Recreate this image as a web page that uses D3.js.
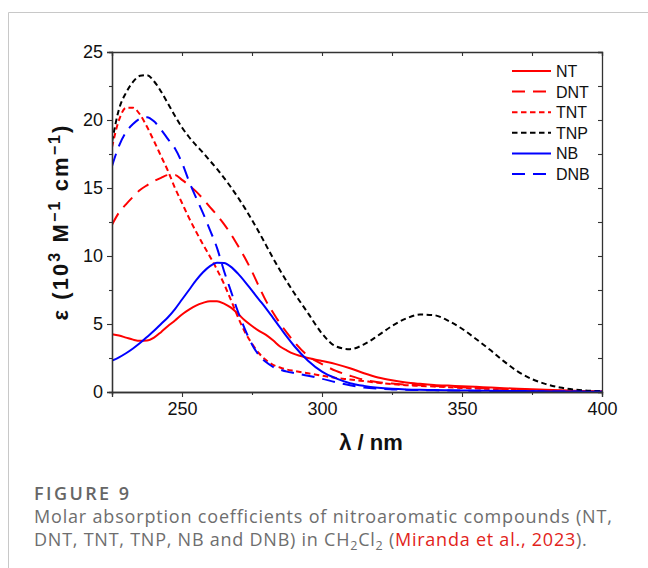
<!DOCTYPE html>
<html>
<head>
<meta charset="utf-8">
<script src="https://cdn.jsdelivr.net/npm/d3@7"></script>
<style>
  body { margin: 0; background: #fff; }
  svg { display: block; }
</style>
</head>
<body>
<div id="chart-area"></div>
<script>

// wavelengths (nm)
const wavelengths = [225, 227.5, 230, 232.5, 235, 237.5, 240, 242.5, 245, 247.5, 250, 252.5, 255, 257.5, 260, 262.5,
  265, 267.5, 270, 272.5, 275, 277.5, 280, 282.5, 285, 287.5, 290, 295, 300, 305, 310, 315, 320, 325, 330, 335,
  340, 345, 350, 355, 360, 365, 370, 375, 380, 385, 390, 395, 400]

// epsilon, 10^3 M-1 cm-1
const NT = [4.24, 4.15, 4.0, 3.85, 3.76, 3.78, 4.0, 4.4, 4.85, 5.25, 5.7, 6.05, 6.35, 6.55, 6.68, 6.68,
  6.5, 6.2, 5.75, 5.25, 4.85, 4.5, 4.2, 3.8, 3.35, 3.05, 2.8, 2.5, 2.28, 2.05, 1.75, 1.38, 1.07, 0.86, 0.7, 0.6,
  0.52, 0.47, 0.43, 0.38, 0.33, 0.28, 0.24, 0.2, 0.16, 0.12, 0.09, 0.06, 0.04]
const DNT = [12.3, 13.2, 13.8, 14.35, 14.85, 15.2, 15.5, 15.75, 15.95, 15.95, 15.6, 15.2, 14.75, 14.2, 13.6, 13.0,
  12.35, 11.6, 10.75, 9.85, 8.85, 7.75, 6.7, 5.85, 5.05, 4.35, 3.7, 2.65, 2.05, 1.55, 1.2, 0.9, 0.72, 0.62, 0.55, 0.5,
  0.45, 0.4, 0.35, 0.3, 0.26, 0.22, 0.18, 0.15, 0.12, 0.09, 0.06, 0.04, 0.03]
const TNT = [18.0, 20.0, 20.9, 20.9, 20.4, 19.5, 18.45, 17.35, 16.25, 15.0, 13.9, 12.8, 11.8, 10.85, 9.95, 9.0,
  7.95, 6.75, 5.5, 4.4, 3.55, 2.85, 2.35, 2.0, 1.8, 1.65, 1.55, 1.38, 1.2, 1.03, 0.92, 0.8, 0.68, 0.58, 0.5, 0.45,
  0.4, 0.35, 0.3, 0.26, 0.22, 0.18, 0.15, 0.12, 0.09, 0.07, 0.05, 0.04, 0.03]
const TNP = [18.4, 20.8, 22.0, 22.8, 23.25, 23.3, 22.85, 22.1, 21.2, 20.3, 19.45, 18.75, 18.15, 17.6, 17.0, 16.4,
  15.75, 15.05, 14.3, 13.5, 12.65, 11.75, 10.8, 9.85, 8.95, 8.1, 7.3, 5.8, 4.3, 3.35, 3.15, 3.5, 4.15, 4.85, 5.4, 5.7,
  5.65, 5.25, 4.65, 3.9, 3.1, 2.25, 1.5, 0.95, 0.58, 0.33, 0.18, 0.1, 0.06]
const NB = [2.3, 2.55, 2.85, 3.2, 3.6, 4.05, 4.5, 5.0, 5.5, 6.1, 6.8, 7.5, 8.2, 8.8, 9.25, 9.5,
  9.48, 9.2, 8.7, 8.1, 7.45, 6.8, 6.15, 5.45, 4.75, 4.05, 3.4, 2.3, 1.5, 1.0, 0.65, 0.45, 0.32, 0.24, 0.19, 0.16,
  0.14, 0.12, 0.11, 0.1, 0.09, 0.08, 0.07, 0.06, 0.05, 0.04, 0.03, 0.02, 0.02]
const DNB = [16.6, 18.1, 19.1, 19.7, 20.1, 20.2, 19.9, 19.3, 18.6, 17.9, 16.85, 15.5, 14.3, 13.15, 11.9, 10.6,
  8.9, 7.4, 5.9, 4.6, 3.5, 2.7, 2.2, 1.85, 1.65, 1.5, 1.4, 1.2, 0.97, 0.72, 0.5, 0.33, 0.24, 0.19, 0.16, 0.14,
  0.12, 0.11, 0.1, 0.09, 0.08, 0.07, 0.06, 0.05, 0.04, 0.03, 0.03, 0.02, 0.02]

const names = ['NT', 'DNT', 'TNT', 'TNP', 'NB', 'DNB']
const values = [NT, DNT, TNT, TNP, NB, DNB]

const xTicks = [250, 300, 350, 400]
const xMinor = [225, 275, 325, 375]
const yTicks = [0, 5, 10, 15, 20, 25]
const yMinor = [2.5, 7.5, 12.5, 17.5, 22.5]

const colors = { NT: '#ff0000', DNT: '#ff0000', TNT: '#ff0000', TNP: '#000000', NB: '#0000ff', DNB: '#0000ff' }
const dashes = { NT: null, DNT: '13,8', TNT: '5.5,3.5', TNP: '5.5,3.5', NB: null, DNB: '13,8' }

const PLOT = { LEFT: 112, RIGHT: 602, TOP: 52, BOTTOM: 392 }
const FONT = '"Liberation Sans", Arial, sans-serif'

// stretch a text element to a given width with letter spacing
function fitWidth(sel, width) {
  const node = sel.node()
  const n = node.textContent.length
  const len = node.getComputedTextLength()
  sel.attr('letter-spacing', ((width - len) / (n - 1)).toFixed(2))
}

// scale font size so the text is a given width, returns the size used
function fitSize(sel, width) {
  const size = +sel.attr('font-size') * width / sel.node().getComputedTextLength()
  sel.attr('font-size', size.toFixed(2))
  return size
}

const svg = d3.select('#chart-area').append('svg')
  .attr('width', 648)
  .attr('height', 568)

// card border
svg.append('path')
  .attr('d', 'M8.5,568 V12.5 H648')
  .attr('fill', 'none')
  .attr('stroke', '#c8c8c8')
  .attr('stroke-width', 1)

const x = d3.scaleLinear().domain([225, 400]).range([PLOT.LEFT, PLOT.RIGHT])
const y = d3.scaleLinear().domain([0, 25]).range([PLOT.BOTTOM, PLOT.TOP])

svg.append('clipPath').attr('id', 'clip')
  .append('rect')
  .attr('x', PLOT.LEFT).attr('y', PLOT.TOP - 2)
  .attr('width', PLOT.RIGHT - PLOT.LEFT).attr('height', PLOT.BOTTOM - PLOT.TOP + 2)

// curves
const line = d3.line()
  .x(d => x(d[0]))
  .y(d => y(d[1]))
  .curve(d3.curveMonotoneX)

const curves = svg.append('g').attr('clip-path', 'url(#clip)')
names.forEach((name, i) => {
  curves.append('path')
    .datum(wavelengths.map((w, j) => [w, values[i][j]]))
    .attr('d', line)
    .attr('fill', 'none')
    .attr('stroke', colors[name])
    .attr('stroke-width', 2)
    .attr('stroke-dasharray', dashes[name])
})

// axes
function styleAxis(g) {
  g.select('.domain').attr('stroke', '#333').attr('stroke-width', 1.3)
  g.selectAll('.tick line').attr('stroke', '#333').attr('stroke-width', 1.1)
  g.selectAll('.tick text').attr('fill', '#111').attr('font-size', 18).attr('font-family', FONT)
}

svg.append('g')
  .attr('transform', `translate(0, ${PLOT.BOTTOM})`)
  .call(d3.axisBottom(x).tickValues(xMinor).tickSize(3).tickFormat(''))
  .call(styleAxis)
svg.append('g')
  .attr('transform', `translate(0, ${PLOT.BOTTOM})`)
  .call(d3.axisBottom(x).tickValues(xTicks).tickSize(5).tickPadding(5).tickFormat(d3.format('d')))
  .call(styleAxis)

svg.append('g')
  .attr('transform', `translate(${PLOT.LEFT}, 0)`)
  .call(d3.axisLeft(y).tickValues(yMinor).tickSize(3).tickFormat(''))
  .call(styleAxis)
svg.append('g')
  .attr('transform', `translate(${PLOT.LEFT}, 0)`)
  .call(d3.axisLeft(y).tickValues(yTicks).tickSize(5).tickPadding(4).tickFormat(d3.format('d')))
  .call(styleAxis)

svg.append('g')
  .attr('transform', `translate(0, ${PLOT.TOP})`)
  .call(d3.axisTop(x).tickValues(xTicks.concat(xMinor)).tickSize(-4).tickFormat(''))
  .call(styleAxis)
svg.append('g')
  .attr('transform', `translate(${PLOT.RIGHT}, 0)`)
  .call(d3.axisRight(y).tickValues(yTicks.concat(yMinor)).tickSize(-4).tickFormat(''))
  .call(styleAxis)

// axis titles
svg.append('text')
  .attr('x', 371)
  .attr('y', 450)
  .attr('text-anchor', 'middle')
  .attr('font-family', FONT)
  .attr('font-weight', 'bold')
  .attr('font-size', 22)
  .attr('fill', '#111')
  .text('λ / nm')

const yTitle = svg.append('text')
  .attr('transform', 'translate(68, 222) rotate(-90)')
  .attr('text-anchor', 'middle')
  .attr('font-family', FONT)
  .attr('font-weight', 'bold')
  .attr('font-size', 22)
  .attr('fill', '#111')
const yParts = [['ε (10', false], ['3', true], [' M', false], ['−1', true], [' cm', false], ['−1', true], [')', false]]
yParts.forEach(([t, sup]) => {
  yTitle.append('tspan')
    .attr('font-size', sup ? 16 : 22)
    .attr('baseline-shift', sup ? '50%' : null)
    .text(t)
})
fitWidth(yTitle, 195)

// legend
const legend = svg.append('g')
names.forEach((name, i) => {
  const ly = 71 + i * 20.6
  legend.append('line')
    .attr('x1', 512).attr('x2', 551)
    .attr('y1', ly).attr('y2', ly)
    .attr('stroke', colors[name])
    .attr('stroke-width', 2)
    .attr('stroke-dasharray', dashes[name])
  legend.append('text')
    .attr('x', 556).attr('y', ly + 6)
    .attr('font-family', FONT)
    .attr('font-size', 16)
    .attr('fill', '#111')
    .text(name)
})

// caption
const CAP = '"Open Sans", "Noto Sans", sans-serif'
const fig = svg.append('text')
  .attr('x', 34).attr('y', 500)
  .attr('font-family', CAP)
  .attr('font-size', 18)
  .attr('font-weight', 600)
  .attr('fill', '#666')
  .text('FIGURE 9')
fitWidth(fig, 95)

const cap1 = svg.append('text')
  .attr('x', 34).attr('y', 523)
  .attr('font-family', CAP)
  .attr('font-size', 16)
  .attr('fill', '#6e6e6e')
  .text('Molar absorption coefficients of nitroaromatic compounds (NT,')
const capSize = Math.min(fitSize(cap1, 578), 18)
cap1.attr('font-size', capSize.toFixed(2))
fitWidth(cap1, 578)

const cap2 = svg.append('text')
  .attr('x', 34).attr('y', 546)
  .attr('font-family', CAP)
  .attr('font-size', capSize.toFixed(2))
  .attr('fill', '#6e6e6e')
cap2.append('tspan').text('DNT, TNT, TNP, NB and DNB) in CH')
cap2.append('tspan').attr('font-size', 12.5).attr('dy', 4).text('2')
cap2.append('tspan').attr('dy', -4).text('Cl')
cap2.append('tspan').attr('font-size', 12.5).attr('dy', 4).text('2')
cap2.append('tspan').attr('dy', -4).text(' (')
cap2.append('tspan').attr('fill', '#e2231a').text('Miranda et al., 2023')
cap2.append('tspan').text(').')
fitWidth(cap2, 553)

</script>
</body>
</html>
